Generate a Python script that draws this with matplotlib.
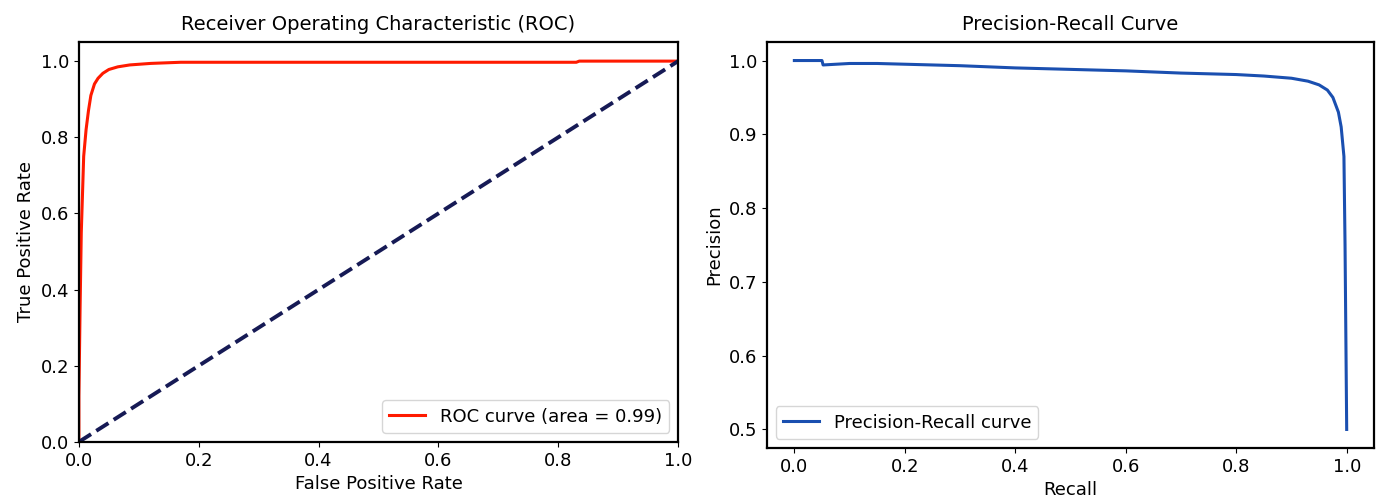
import matplotlib
matplotlib.use('Agg')
import matplotlib.pyplot as plt

# ROC curve points
fpr = [0.0, 0.0, 0.002, 0.004, 0.006, 0.008, 0.012, 0.016, 0.02, 0.026, 0.032, 0.04, 0.05,
       0.065, 0.085, 0.12, 0.17, 0.3, 0.5, 0.83, 0.835, 1.0]
tpr = [0.0, 0.12, 0.35, 0.55, 0.65, 0.75, 0.82, 0.87, 0.91, 0.94, 0.955, 0.968, 0.978,
       0.985, 0.99, 0.994, 0.997, 0.997, 0.997, 0.997, 1.0, 1.0]
roc_auc = 0.99

# precision-recall curve points
recall = [0.0, 0.05, 0.052, 0.1, 0.15, 0.2, 0.3, 0.4, 0.5, 0.6, 0.7, 0.8, 0.85, 0.9,
          0.93, 0.95, 0.965, 0.975, 0.985, 0.99, 0.995, 0.997, 1.0]
precision = [1.0, 1.0, 0.994, 0.996, 0.996, 0.995, 0.993, 0.99, 0.988, 0.986, 0.983, 0.981,
             0.979, 0.976, 0.972, 0.967, 0.96, 0.95, 0.93, 0.91, 0.87, 0.75, 0.5]

plt.rcParams['font.family'] = 'DejaVu Sans'
plt.rcParams['font.size'] = 13

fig = plt.figure(figsize=(13.84, 5.01), dpi=100)
ax1 = fig.add_axes([0.057, 0.118, 0.433, 0.798])
ax2 = fig.add_axes([0.554, 0.106, 0.439, 0.810])

# ROC
ax1.plot(fpr, tpr, color='#ff1a00', lw=2.2, label='ROC curve (area = %0.2f)' % roc_auc)
ax1.plot([0, 1], [0, 1], color='#161a55', lw=2.8, linestyle='--')
ax1.set_xlim(0.0, 1.0)
ax1.set_ylim(0.0, 1.05)
ax1.set_xlabel('False Positive Rate', fontsize=13)
ax1.set_ylabel('True Positive Rate', fontsize=13)
ax1.set_title('Receiver Operating Characteristic (ROC)', fontsize=14, pad=9)
ax1.legend(loc='lower right', fontsize=13)

# Precision-Recall
ax2.plot(recall, precision, color='#1a4fb0', lw=2.2, label='Precision-Recall curve')
ax2.set_xlabel('Recall', fontsize=13)
ax2.set_ylabel('Precision', fontsize=13)
ax2.set_title('Precision-Recall Curve', fontsize=14, pad=9)
ax2.legend(loc='lower left', fontsize=13)

for ax in (ax1, ax2):
    ax.tick_params(labelsize=13)
    for s in ax.spines.values():
        s.set_linewidth(1.6)

fig.savefig('out.png', dpi=100)
